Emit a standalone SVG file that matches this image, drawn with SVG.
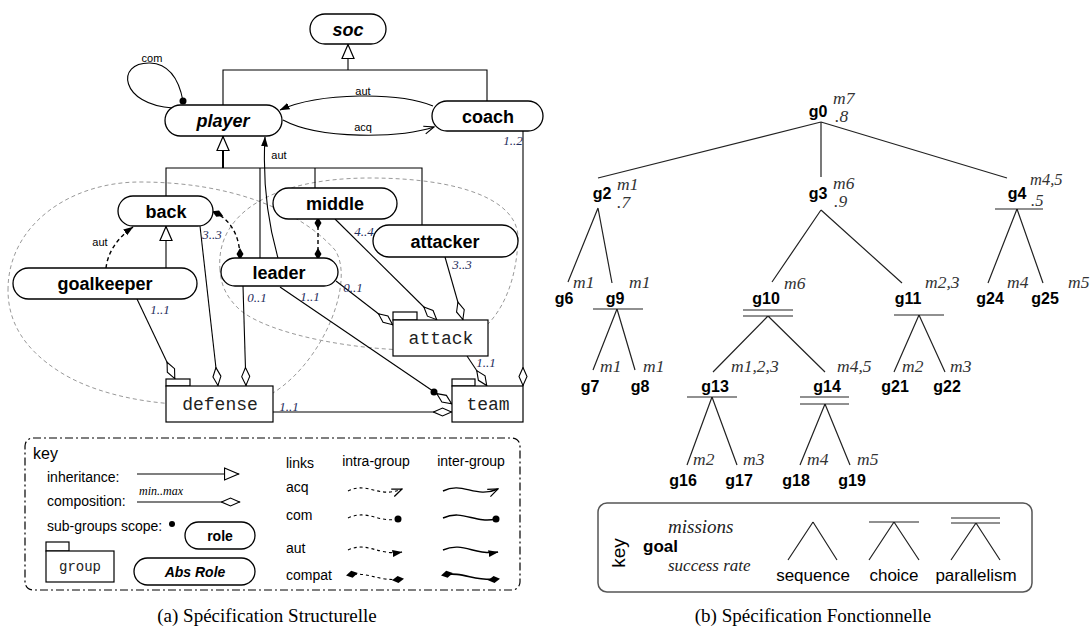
<svg xmlns="http://www.w3.org/2000/svg" width="1092" height="628" viewBox="0 0 1092 628">
<style>
.pill{fill:#fff;stroke:#000;stroke-width:1.3}
.box{fill:#fff;stroke:#000;stroke-width:1.2}
.nl{font-family:"Liberation Sans",Arial,sans-serif;font-weight:bold;font-size:18px;text-anchor:middle;fill:#000}
.ab{font-style:italic}
.mono{font-family:"Liberation Mono","Courier New",monospace;font-size:18px;text-anchor:middle;fill:#222}
.ln{fill:none;stroke:#000;stroke-width:1.1}
.dl{fill:none;stroke:#000;stroke-width:1.4;stroke-dasharray:4 3}
.ell{fill:none;stroke:#999;stroke-width:1;stroke-dasharray:4 3}
.sm{font-family:"Liberation Sans",Arial,sans-serif;font-size:11px;text-anchor:middle;fill:#000}
.mult{font-family:"Liberation Serif","Times New Roman",serif;font-style:italic;font-size:13px;text-anchor:middle;fill:#1f2d5c}
.key{font-family:"Liberation Sans",Arial,sans-serif;font-size:14px;fill:#000}
.tl{fill:none;stroke:#222;stroke-width:1.2}
.g{font-family:"Liberation Sans",Arial,sans-serif;font-weight:bold;font-size:16px;text-anchor:middle;fill:#000}
.m{font-family:"Liberation Serif","Times New Roman",serif;font-style:italic;font-size:17.5px;fill:#333}
.cap{font-family:"Liberation Serif","Times New Roman",serif;font-size:19px;text-anchor:middle;fill:#000}
</style>
<defs>
<marker id="inh" viewBox="0 0 16 14" refX="15.5" refY="7" markerWidth="16" markerHeight="14" markerUnits="userSpaceOnUse" orient="auto"><path d="M1,1 L15,7 L1,13 Z" fill="#fff" stroke="#000" stroke-width="1.2"/></marker>
<marker id="dia" viewBox="0 0 20 10" refX="19.5" refY="5" markerWidth="20" markerHeight="10" markerUnits="userSpaceOnUse" orient="auto"><path d="M1,5 L10,1 L19,5 L10,9 Z" fill="#fff" stroke="#000" stroke-width="1.1"/></marker>
<marker id="fa" viewBox="0 0 10 8" refX="9.5" refY="4" markerWidth="10" markerHeight="8" markerUnits="userSpaceOnUse" orient="auto"><path d="M0,0.5 L10,4 L0,7.5 Z" fill="#000"/></marker>
<marker id="oa" viewBox="0 0 12 10" refX="11" refY="5" markerWidth="12" markerHeight="10" markerUnits="userSpaceOnUse" orient="auto"><path d="M1,1 L11,5 L1,9" fill="none" stroke="#000" stroke-width="1.2"/></marker>
<marker id="cd" viewBox="0 0 12 8" refX="10" refY="4" markerWidth="12" markerHeight="8" markerUnits="userSpaceOnUse" orient="auto-start-reverse"><path d="M0,4 L6,0.5 L12,4 L6,7.5 Z" fill="#000"/></marker>
<marker id="dot" viewBox="0 0 8 8" refX="4" refY="4" markerWidth="8" markerHeight="8" markerUnits="userSpaceOnUse"><circle cx="4" cy="4" r="3.5" fill="#000"/></marker>
</defs>
<rect width="1092" height="628" fill="#fff"/>

<g id="scopes">
<path class="ell" d="M8,290 C8,225 70,182 140,182 C230,182 300,210 335,250 C355,280 325,360 273,393 C230,412 120,410 60,372 C22,348 8,320 8,290 Z"/>
<path class="ell" d="M220,270 C215,215 270,178 370,178 C460,178 520,200 518,240 C516,290 495,345 430,350 C360,352 270,335 240,310 C226,297 221,285 220,270 Z"/>
</g>

<g id="connectors">
<path class="ln" d="M223,105 V70 H487 V101"/>
<line class="ln" x1="348" y1="70" x2="348" y2="44" marker-end="url(#inh)"/>
<path class="ln" d="M166,196 V168 H422 V225"/>
<line class="ln" x1="260" y1="168" x2="260" y2="258"/>
<line class="ln" x1="315" y1="168" x2="315" y2="188"/>
<line x1="223" y1="168" x2="223" y2="136" stroke="#000" stroke-width="2" marker-end="url(#inh)"/>
<path class="ln" d="M173,108 C120,105 115,62 150,63 C172,64 180,85 183,101" marker-end="url(#dot)"/>
<text class="sm" x="152" y="62">com</text>
<path class="ln" d="M433,106 C400,92 320,92 280,110" marker-end="url(#fa)"/>
<text class="sm" x="363" y="95">aut</text>
<path class="ln" d="M283,120 C320,140 400,138 434,127" marker-end="url(#oa)"/>
<text class="sm" x="363" y="131">acq</text>
<path class="ln" d="M278,258 C270,230 262,190 265,137" marker-end="url(#fa)"/>
<text class="sm" x="279" y="159">aut</text>
<line class="ln" x1="166" y1="268" x2="166" y2="226" marker-end="url(#inh)"/>
<path class="dl" d="M106,268 C108,250 120,236 133,227" marker-end="url(#fa)"/>
<text class="sm" x="100" y="246">aut</text>
<path class="dl" d="M214,212 C232,220 240,238 240,258" marker-start="url(#cd)" marker-end="url(#cd)"/>
<text class="mult" x="212" y="239">3..3</text>
<line class="dl" x1="318" y1="219" x2="318" y2="258" marker-start="url(#cd)" marker-end="url(#cd)"/>
<line class="ln" x1="137" y1="299" x2="175" y2="379" marker-end="url(#dia)"/>
<text class="mult" x="160" y="314">1..1</text>
<line class="ln" x1="200" y1="226" x2="218" y2="386" marker-end="url(#dia)"/>
<line class="ln" x1="243" y1="286" x2="246" y2="386" marker-end="url(#dia)"/>
<text class="mult" x="257" y="302">0..1</text>
<line class="ln" x1="335" y1="219" x2="437" y2="320" marker-end="url(#dia)"/>
<text class="mult" x="364" y="236">4..4</text>
<line class="ln" x1="445" y1="257" x2="463" y2="320" marker-end="url(#dia)"/>
<text class="mult" x="462" y="269">3..3</text>
<line class="ln" x1="336" y1="281" x2="393" y2="325" marker-end="url(#dia)"/>
<text class="mult" x="353" y="292">0..1</text>
<line class="ln" x1="280" y1="287" x2="452" y2="404" marker-end="url(#dia)"/>
<circle cx="434" cy="392" r="3.5" fill="#000"/>
<text class="mult" x="310" y="301">1..1</text>
<line class="ln" x1="273" y1="412" x2="452" y2="412" marker-end="url(#dia)"/>
<text class="mult" x="289" y="411">1..1</text>
<line class="ln" x1="467" y1="356" x2="487" y2="386" marker-end="url(#dia)"/>
<text class="mult" x="486" y="367">1..1</text>
<line class="ln" x1="523" y1="131" x2="523" y2="386" marker-end="url(#dia)"/>
<text class="mult" x="513" y="145">1..2</text>
</g>

<g id="soc"><rect class="pill" x="310" y="14" width="76" height="30" rx="15"/><text class="nl ab" x="348" y="36">soc</text></g>
<g id="player"><rect class="pill" x="165" y="105" width="117" height="31" rx="15.5"/><text class="nl ab" x="223" y="127">player</text></g>
<g id="coach"><rect class="pill" x="432" y="101" width="111" height="30" rx="15"/><text class="nl" x="488" y="123">coach</text></g>
<g id="back"><rect class="pill" x="118" y="196" width="95" height="30" rx="15"/><text class="nl" x="166" y="218">back</text></g>
<g id="goalkeeper"><rect class="pill" x="13" y="268" width="184" height="31" rx="15.5"/><text class="nl" x="105" y="290">goalkeeper</text></g>
<g id="middle"><rect class="pill" x="273" y="188" width="124" height="31" rx="15.5"/><text class="nl" x="335" y="210">middle</text></g>
<g id="leader"><rect class="pill" x="221" y="258" width="117" height="28" rx="14"/><text class="nl" x="279" y="279">leader</text></g>
<g id="attacker"><rect class="pill" x="373" y="225" width="145" height="32" rx="16"/><text class="nl" x="445" y="248">attacker</text></g>

<g id="attack"><rect class="box" x="393" y="312" width="24" height="8"/><rect class="box" x="393" y="320" width="95" height="36"/><text class="mono" x="441" y="344">attack</text></g>
<g id="defense"><rect class="box" x="166" y="379" width="24" height="7"/><rect class="box" x="166" y="386" width="107" height="36"/><text class="mono" x="220" y="410">defense</text></g>
<g id="team"><rect class="box" x="452" y="379" width="23" height="7"/><rect class="box" x="452" y="386" width="71" height="36"/><text class="mono" x="488" y="410">team</text></g>

<g id="key-structural">
<rect x="25" y="438" width="495" height="152" rx="8" fill="none" stroke="#000" stroke-width="1.2" stroke-dasharray="8 3 2 3"/>
<text class="key" x="33" y="459" style="font-size:16px">key</text>
<text class="key" x="47" y="482">inheritance:</text>
<line class="ln" x1="137" y1="474" x2="239" y2="474" marker-end="url(#inh)"/>
<text class="m" x="139" y="495" style="font-size:12px;fill:#000">min..max</text>
<text class="key" x="47" y="506">composition:</text>
<line class="ln" x1="137" y1="502" x2="240" y2="502" marker-end="url(#dia)"/>
<text class="key" x="47" y="531">sub-groups scope:</text>
<circle cx="172" cy="524" r="3" fill="#000"/>
<rect class="pill" x="185" y="522" width="70" height="27" rx="13.5"/>
<text class="nl" x="220" y="541" style="font-size:14px">role</text>
<rect class="box" x="46" y="542" width="23" height="9"/>
<rect class="box" x="46" y="551" width="68" height="31"/>
<text class="mono" x="80" y="571" style="font-size:14px">group</text>
<rect class="pill" x="134" y="558" width="121" height="27" rx="13.5"/>
<text class="nl ab" x="195" y="577" style="font-size:14px">Abs Role</text>
<text class="key" x="286" y="468">links</text>
<text class="key" x="376" y="466" text-anchor="middle">intra-group</text>
<text class="key" x="471" y="466" text-anchor="middle">inter-group</text>
<text class="key" x="286" y="492">acq</text>
<text class="key" x="286" y="520">com</text>
<text class="key" x="286" y="553">aut</text>
<text class="key" x="286" y="580">compat</text>
<path class="dl" style="stroke-width:1.1;stroke-dasharray:3 3" d="M348,491 C368,481 378,499 402,489" marker-end="url(#oa)"/>
<path class="ln" style="stroke-width:1.4" d="M443,491 C463,481 475,499 498,489" marker-end="url(#oa)"/>
<path class="dl" style="stroke-width:1.1;stroke-dasharray:3 3" d="M348,518 C368,509 378,523 398,519" marker-end="url(#dot)"/>
<path class="ln" style="stroke-width:1.4" d="M443,518 C463,509 475,524 496,519" marker-end="url(#dot)"/>
<path class="dl" style="stroke-width:1.1;stroke-dasharray:3 3" d="M348,550 C368,541 378,556 402,552" marker-end="url(#fa)"/>
<path class="ln" style="stroke-width:1.4" d="M443,550 C463,541 475,556 498,552" marker-end="url(#fa)"/>
<path class="dl" style="stroke-width:1.1;stroke-dasharray:3 3" d="M348,575 C368,571 378,582 402,579" marker-start="url(#cd)" marker-end="url(#cd)"/>
<path class="ln" style="stroke-width:1.6" d="M443,575 C463,571 475,582 498,579" marker-start="url(#cd)" marker-end="url(#cd)"/>
</g>

<g id="tree-links">
<path class="tl" d="M821,122 L598,178 M821,122 L821,177 M821,122 L1007,178"/>
<path class="tl" d="M598,208 L568,282 M598,208 L612,283"/>
<path class="tl" d="M821,210 L772,282 M821,210 L902,283"/>
<path class="tl" d="M995,209 H1043 M1017,209 L988,283 M1017,209 L1043,283"/>
<path class="tl" d="M593,309 H643 M617,309 L593,370 M617,309 L635,370"/>
<path class="tl" d="M743,310 H793 M743,316 H793 M768,316 L713,372 M768,316 L825,372"/>
<path class="tl" d="M894,315 H944 M919,315 L894,372 M919,315 L945,372"/>
<path class="tl" d="M687,397 H737 M712,397 L687,465 M712,397 L737,465"/>
<path class="tl" d="M800,397 H849 M800,404 H849 M825,404 L800,465 M825,404 L850,465"/>
</g>
<g id="g0"><text class="g" x="818" y="117">g0</text><text class="m" x="833" y="104">m7</text><text class="m" x="835" y="122">.8</text></g>
<g id="g2"><text class="g" x="602" y="199">g2</text><text class="m" x="617" y="190">m1</text><text class="m" x="617" y="208">.7</text></g>
<g id="g3"><text class="g" x="818" y="199">g3</text><text class="m" x="833" y="189">m6</text><text class="m" x="834" y="207">.9</text></g>
<g id="g4"><text class="g" x="1017" y="199">g4</text><text class="m" x="1030" y="185" style="font-size:16.5px">m4,5</text><text class="m" x="1031" y="206" style="font-size:16.5px">.5</text></g>
<g id="g6"><text class="g" x="564" y="304">g6</text><text class="m" x="573" y="288">m1</text></g>
<g id="g9"><text class="g" x="615" y="304">g9</text><text class="m" x="629" y="288">m1</text></g>
<g id="g10"><text class="g" x="766" y="304">g10</text><text class="m" x="784" y="289">m6</text></g>
<g id="g11"><text class="g" x="908" y="304">g11</text><text class="m" x="925" y="288">m2,3</text></g>
<g id="g24"><text class="g" x="990" y="304">g24</text><text class="m" x="1007" y="288">m4</text></g>
<g id="g25"><text class="g" x="1045" y="304">g25</text><text class="m" x="1068" y="288">m5</text></g>
<g id="g7"><text class="g" x="590" y="392">g7</text><text class="m" x="600" y="372">m1</text></g>
<g id="g8"><text class="g" x="640" y="392">g8</text><text class="m" x="643" y="372">m1</text></g>
<g id="g13"><text class="g" x="715" y="392">g13</text><text class="m" x="731" y="372">m1,2,3</text></g>
<g id="g14"><text class="g" x="827" y="392">g14</text><text class="m" x="837" y="372">m4,5</text></g>
<g id="g21"><text class="g" x="895" y="392">g21</text><text class="m" x="902" y="372">m2</text></g>
<g id="g22"><text class="g" x="947" y="392">g22</text><text class="m" x="950" y="372">m3</text></g>
<g id="g16"><text class="g" x="683" y="486">g16</text><text class="m" x="693" y="465">m2</text></g>
<g id="g17"><text class="g" x="739" y="486">g17</text><text class="m" x="743" y="465">m3</text></g>
<g id="g18"><text class="g" x="796" y="486">g18</text><text class="m" x="807" y="465">m4</text></g>
<g id="g19"><text class="g" x="852" y="486">g19</text><text class="m" x="857" y="465">m5</text></g>

<g id="key-functional">
<rect x="598" y="503" width="434" height="89" rx="9" fill="none" stroke="#555" stroke-width="1.5"/>
<text class="key" transform="translate(625,553) rotate(-90)" text-anchor="middle" style="font-size:19px">key</text>
<text class="m" x="668" y="533" style="font-size:19px;fill:#222">missions</text>
<text class="g" x="643" y="552" style="text-anchor:start;font-size:17px">goal</text>
<text class="m" x="668" y="571" style="font-size:17px;fill:#222">success rate</text>
<path class="tl" d="M813,522 L788,560 M813,522 L837,560"/>
<path class="tl" d="M869,522 H919 M894,522 L869,560 M894,522 L919,560"/>
<path class="tl" d="M951,518 H1000 M951,523 H1000 M976,523 L951,560 M976,523 L1000,560"/>
<text class="key" x="813" y="581" text-anchor="middle" style="font-size:17px">sequence</text>
<text class="key" x="894" y="581" text-anchor="middle" style="font-size:17px">choice</text>
<text class="key" x="976" y="581" text-anchor="middle" style="font-size:17px">parallelism</text>
</g>

<text class="cap" x="267" y="622">(a) Spécification Structurelle</text>
<text class="cap" x="813" y="622">(b) Spécification Fonctionnelle</text>
</svg>
